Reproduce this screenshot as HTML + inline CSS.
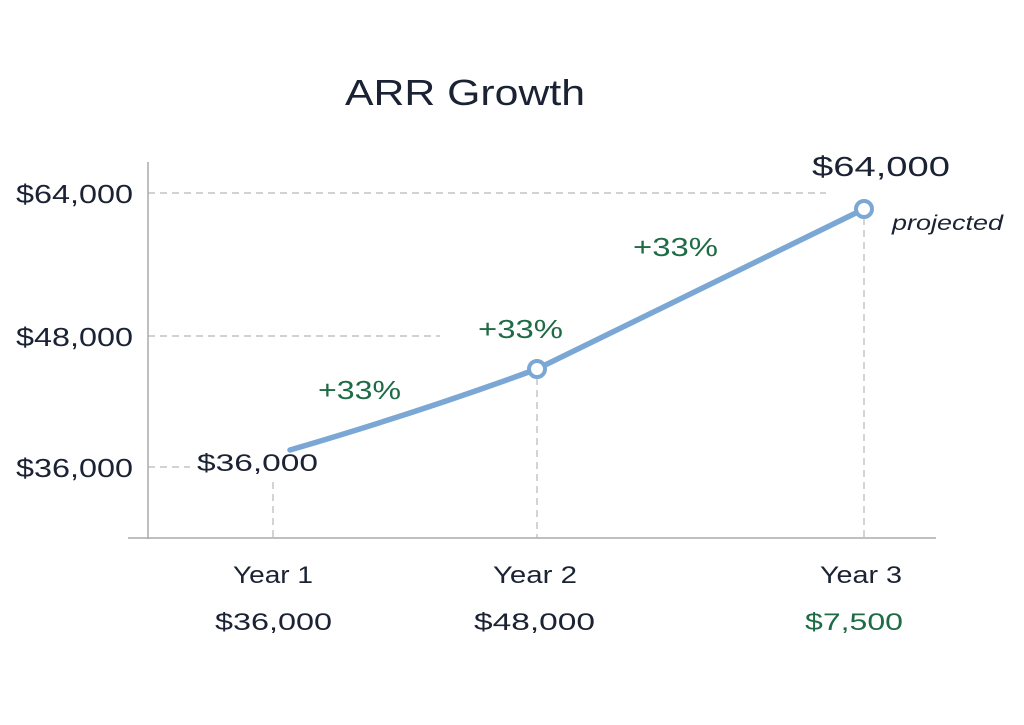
<!DOCTYPE html>
<html><head><meta charset="utf-8"><style>
body{margin:0;background:#fff;}
svg{display:block;font-family:"Liberation Sans",sans-serif;}
</style></head><body>
<svg width="1024" height="725" viewBox="0 0 1024 725">
<rect width="1024" height="725" fill="#fff"/>
<text x="345" y="105" font-size="36" fill="#1a2233" textLength="240" lengthAdjust="spacingAndGlyphs">ARR Growth</text>
<g stroke="#b8b8b8" stroke-width="1.2" stroke-dasharray="7,5" fill="none">
<line x1="148" y1="193" x2="826" y2="193"/>
<line x1="148" y1="336" x2="440" y2="336"/>
<line x1="148" y1="467" x2="190" y2="467"/>
<line x1="273" y1="482" x2="273" y2="538"/>
<line x1="537" y1="378" x2="537" y2="538"/>
<line x1="864" y1="218" x2="864" y2="538"/>
</g>
<line x1="148" y1="162" x2="148" y2="539" stroke="#aaa" stroke-width="1.5"/>
<line x1="128" y1="538" x2="936" y2="538" stroke="#aaa" stroke-width="1.5"/>
<g font-size="26" fill="#1a2233">
<text x="16" y="203" textLength="117" lengthAdjust="spacingAndGlyphs">$64,000</text>
<text x="16" y="346" textLength="117" lengthAdjust="spacingAndGlyphs">$48,000</text>
<text x="16" y="477" textLength="117" lengthAdjust="spacingAndGlyphs">$36,000</text>
</g>
<path d="M290,450 Q420,412 537,369 L864,209" stroke="#7ba7d4" stroke-width="5.5" fill="none" stroke-linecap="round"/>
<circle cx="537" cy="369" r="8" fill="#fff" stroke="#7ba7d4" stroke-width="4"/>
<circle cx="864" cy="209" r="8" fill="#fff" stroke="#7ba7d4" stroke-width="4"/>
<text x="197" y="471" font-size="24" fill="#1a2233" textLength="121" lengthAdjust="spacingAndGlyphs">$36,000</text>
<text x="812" y="176" font-size="28" fill="#1a2233" textLength="138" lengthAdjust="spacingAndGlyphs">$64,000</text>
<text x="892" y="230" font-size="21" fill="#1a2233" font-style="italic" textLength="111" lengthAdjust="spacingAndGlyphs">projected</text>
<g font-size="26" fill="#1e6b45">
<text x="318" y="399" textLength="83" lengthAdjust="spacingAndGlyphs">+33%</text>
<text x="478" y="338" textLength="85" lengthAdjust="spacingAndGlyphs">+33%</text>
<text x="633" y="256" textLength="85" lengthAdjust="spacingAndGlyphs">+33%</text>
</g>
<g font-size="24" fill="#1a2233">
<text x="233" y="583" textLength="80" lengthAdjust="spacingAndGlyphs">Year 1</text>
<text x="493" y="583" textLength="84" lengthAdjust="spacingAndGlyphs">Year 2</text>
<text x="820" y="583" textLength="82" lengthAdjust="spacingAndGlyphs">Year 3</text>
<text x="215" y="630" textLength="117" lengthAdjust="spacingAndGlyphs">$36,000</text>
<text x="474" y="630" textLength="121" lengthAdjust="spacingAndGlyphs">$48,000</text>
<text x="805" y="630" fill="#1e6b45" textLength="98" lengthAdjust="spacingAndGlyphs">$7,500</text>
</g>
</svg>
</body></html>
